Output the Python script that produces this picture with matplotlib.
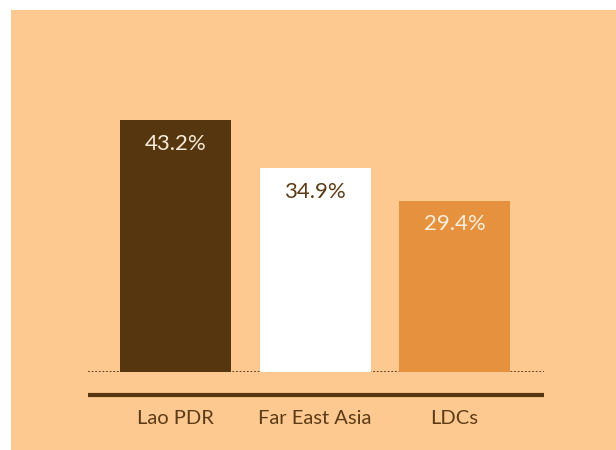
import matplotlib
matplotlib.use('Agg')
import matplotlib.pyplot as plt
from matplotlib.patches import Rectangle

# data
categories = ['Lao PDR', 'Far East Asia', 'LDCs']
values = [43.2, 34.9, 29.4]
value_labels = ['43.2%', '34.9%', '29.4%']

bar_colors = ['#55360f', '#ffffff', '#e6913d']
label_colors = ['#f6ead8', '#5b3c17', '#fbeedd']
bg = '#fec891'
brown = '#5b3c17'

plt.rcParams['font.family'] = ['Lato', 'DejaVu Sans']

W, H = 616, 450
fig = plt.figure(figsize=(W / 100, H / 100), dpi=100)
fig.patch.set_facecolor('white')
# orange panel
fig.patches.append(Rectangle((11 / W, 0), 1 - 11 / W, (H - 10) / H,
                             transform=fig.transFigure, facecolor=bg,
                             edgecolor='none', zorder=-5))

# axes placed so the baseline and bars sit like the original
base_px = 372
ax_h_px = 50 * 252 / 43.2
ax = fig.add_axes([88 / W, (H - base_px) / H, (544 - 88) / W, ax_h_px / H])
ax.set_facecolor('none')

x = range(len(categories))
ax.bar(x, values, width=111 / 139.5, color=bar_colors, zorder=2)
ax.set_xlim(-87.5 / 139.5, (544 - 175.5) / 139.5)
ax.set_ylim(0, 50)

for i, v in enumerate(values):
    ax.annotate(value_labels[i], (i, v), xytext=(0, -17), textcoords='offset points',
                ha='center', va='center', fontsize=16, color=label_colors[i])
    ax.text(i, -47 / ax_h_px, categories[i], transform=ax.get_xaxis_transform(),
            ha='center', va='center', fontsize=14.5, color=brown)

# dotted baseline and thick rule below
ax.axhline(0, color='#55360f', lw=1.3, ls=(0, (1, 1)), zorder=1)
ax.plot([0, 1], [-23 / ax_h_px] * 2, transform=ax.transAxes, clip_on=False,
        color='#55360f', lw=3, solid_capstyle='butt')

for s in ax.spines.values():
    s.set_visible(False)
ax.set_xticks([])
ax.set_yticks([])

fig.savefig('out.png', dpi=100, facecolor=fig.get_facecolor())
